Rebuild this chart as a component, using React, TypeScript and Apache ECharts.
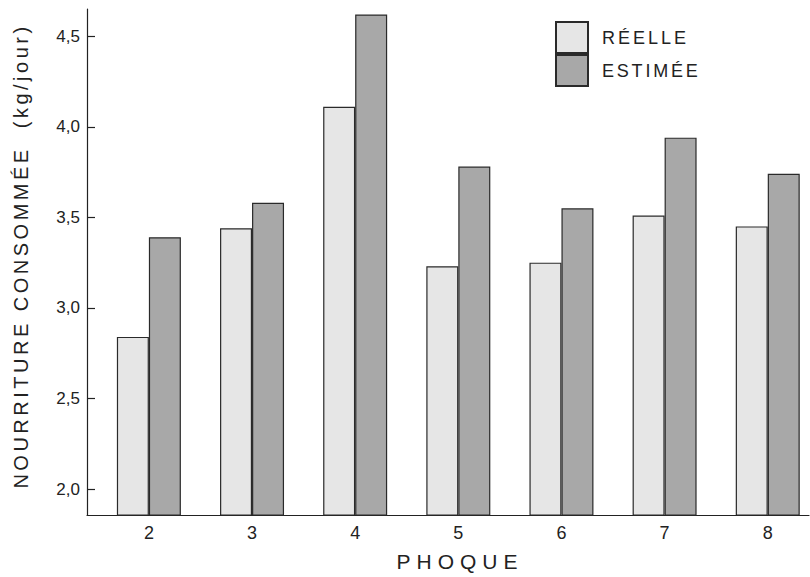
import React, { useEffect, useRef } from "react";
import * as echarts from "echarts";

const categories = [2, 3, 4, 5, 6, 7, 8];
const reelle = [2.84, 3.44, 4.11, 3.23, 3.25, 3.51, 3.45];
const estimee = [3.39, 3.58, 4.62, 3.78, 3.55, 3.94, 3.74];
const yTicks = [2, 2.5, 3, 3.5, 4, 4.5];
const seriesNames = ["RÉELLE", "ESTIMÉE"];
const xTitle = "PHOQUE";
const yTitle = "NOURRITURE CONSOMMÉE  (kg/jour)";

const FONT = "'Liberation Sans', Arial, Helvetica, sans-serif";
const INK = "#222";

const spacingMap: Record<string, number> = {
  [yTitle]: 3.5,
  [xTitle]: 6,
  [seriesNames[0]]: 3,
  [seriesNames[1]]: 2.8,
};

export default function App() {
  const ref = useRef<HTMLDivElement>(null);
  useEffect(() => {
    if (!ref.current) return;
    const chart = echarts.init(ref.current, undefined, { renderer: "svg" });
    const option = {
      animation: false,
      backgroundColor: "#fff",
      grid: { left: 87, right: 1, top: 9, bottom: 57, containLabel: false },
      legend: {
        orient: "vertical",
        left: 550,
        top: 16,
        itemWidth: 32,
        itemHeight: 31,
        itemGap: 0,
        icon: "rect",
        selectedMode: false,
        data: seriesNames,
        textStyle: {
          fontFamily: FONT,
          fontSize: 18,
          color: INK,
          padding: [2, 0, 0, 9],
        },
      },
      xAxis: {
        type: "value",
        min: 1.4,
        max: 8.4,
        name: xTitle,
        nameLocation: "middle",
        nameGap: 36,
        nameTextStyle: {
          fontFamily: FONT,
          fontSize: 21,
          color: INK,
          padding: [0, 0, 0, 24],
        },
        axisLine: { show: true, onZero: false, lineStyle: { color: INK, width: 1.2 } },
        axisTick: { show: false },
        splitLine: { show: false },
        axisLabel: {
          customValues: categories,
          fontFamily: FONT,
          fontSize: 18,
          color: INK,
          margin: 9,
          formatter: (v: number) => String(v),
        },
      },
      yAxis: {
        type: "value",
        min: 1.857,
        max: 4.65,
        name: yTitle,
        nameLocation: "middle",
        nameRotate: 90,
        nameGap: 56,
        nameTextStyle: {
          fontFamily: FONT,
          fontSize: 20,
          color: INK,
          padding: [0, 0, 0, 12],
        },
        axisLine: { show: true, lineStyle: { color: INK, width: 1.2 } },
        axisTick: {
          show: true,
          inside: true,
          length: 8,
          customValues: yTicks,
          lineStyle: { color: INK, width: 1.2 },
        },
        splitLine: { show: false },
        axisLabel: {
          customValues: yTicks,
          fontFamily: FONT,
          fontSize: 17,
          color: INK,
          margin: 7,
          formatter: (v: number) => v.toFixed(1).replace(".", ","),
        },
      },
      series: [
        {
          name: seriesNames[0],
          type: "bar",
          barWidth: 32,
          barGap: "0%",
          data: categories.map((c, i) => [c, reelle[i]]),
          itemStyle: { color: "#e6e6e6", borderColor: "#2a2a2a", borderWidth: 1.2 },
        },
        {
          name: seriesNames[1],
          type: "bar",
          barWidth: 32,
          barGap: "0%",
          data: categories.map((c, i) => [c, estimee[i]]),
          itemStyle: { color: "#a8a8a8", borderColor: "#2a2a2a", borderWidth: 1.2 },
        },
      ],
    };
    chart.setOption(option as any);
    const patch = () => {
      const el = ref.current;
      if (!el) return;
      el.querySelectorAll("text").forEach((t) => {
        const s = t.textContent || "";
        if (spacingMap[s] !== undefined) {
          (t as SVGTextElement).style.letterSpacing = spacingMap[s] + "px";
        }
      });
    };
    chart.on("rendered", patch);
    chart.on("finished", patch);
    patch();
    return () => {
      chart.dispose();
    };
  }, []);
  return (
    <div
      ref={ref}
      style={{ position: "fixed", left: 0, top: 0, width: 810, height: 577, background: "#fff" }}
    />
  );
}
